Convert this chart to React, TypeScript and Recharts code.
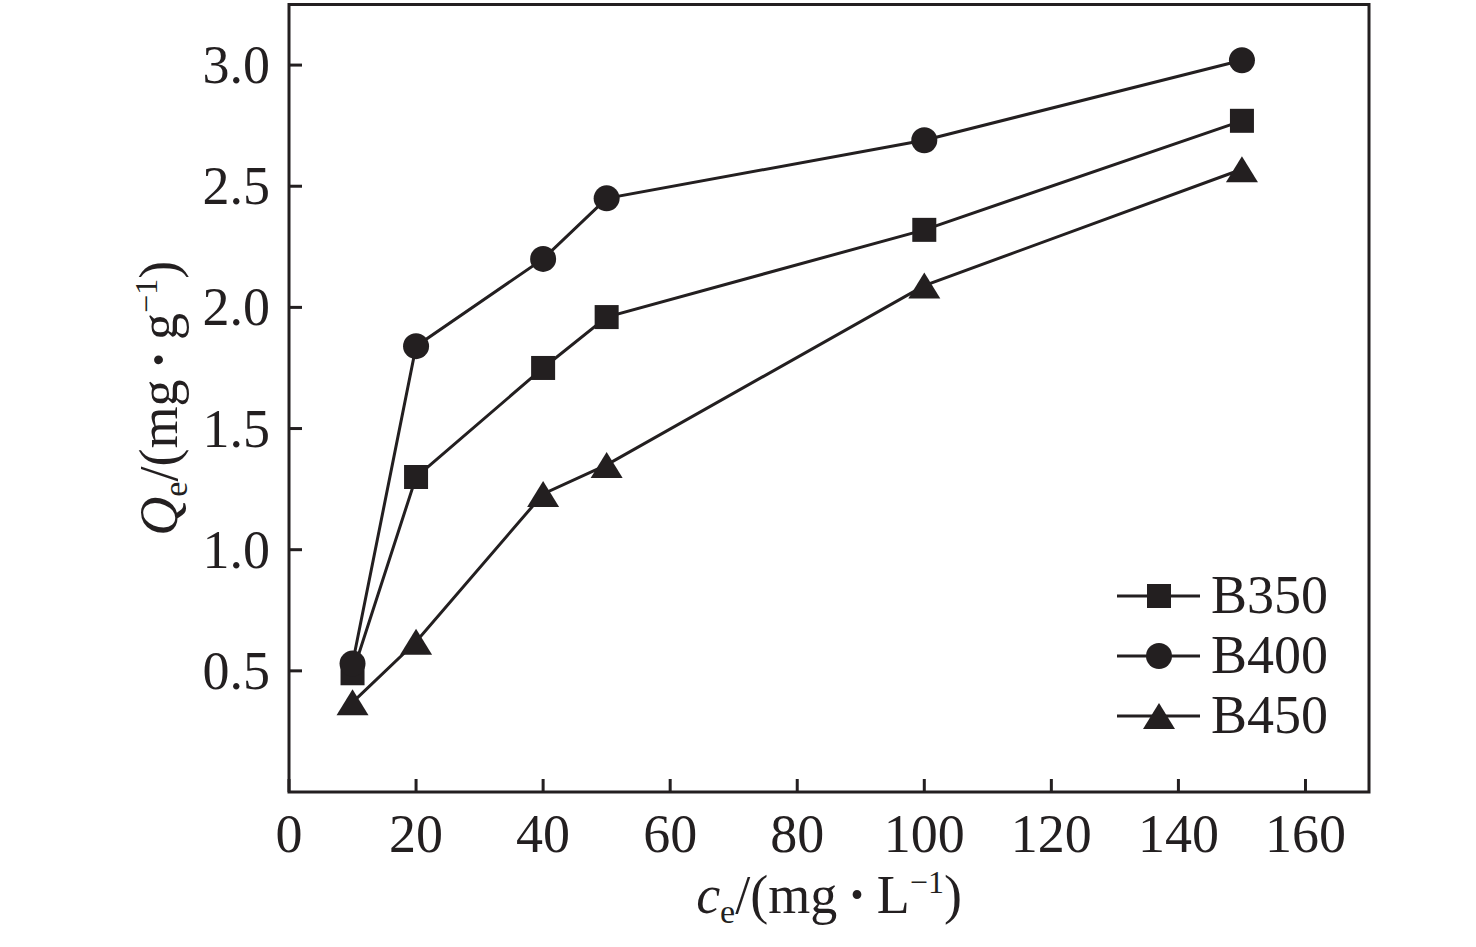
import React from 'react';
import { LineChart, Line, XAxis, YAxis, ReferenceArea, Legend } from 'recharts';

const INK = '#231f20';
const FONT = '"Liberation Serif", "Times New Roman", serif';
const FS = 54;

const ceValues = [10, 20, 40, 50, 100, 150];
const b350 = [0.49, 1.3, 1.75, 1.96, 2.32, 2.77];
const b400 = [0.53, 1.84, 2.2, 2.45, 2.69, 3.02];
const b450 = [0.37, 0.62, 1.23, 1.35, 2.09, 2.57];
const xTicks = [0, 20, 40, 60, 80, 100, 120, 140, 160];
const yTicks = [0.5, 1.0, 1.5, 2.0, 2.5, 3.0];
const seriesNames = ['B350', 'B400', 'B450'];
const seriesMarkers: Record<string, string> = { B350: 'square', B400: 'circle', B450: 'triangle' };

const data = ceValues.map((ce, i) => ({ ce, B350: b350[i], B400: b400[i], B450: b450[i] }));

function Marker({ kind, cx, cy }: { kind: string; cx: number; cy: number }) {
  if (cx == null || cy == null) return null;
  if (kind === 'square') return <rect x={cx - 12} y={cy - 12} width={24} height={24} fill={INK} />;
  if (kind === 'circle') return <circle cx={cx} cy={cy} r={13} fill={INK} />;
  return <polygon points={`${cx},${cy - 13} ${cx + 16},${cy + 13} ${cx - 16},${cy + 13}`} fill={INK} />;
}

const XTick = (props: any) => {
  const { x, y, payload } = props;
  return (
    <g>
      <line x1={x} y1={y} x2={x} y2={y - 13} stroke={INK} strokeWidth={3} />
      <text x={x} y={y + 60} textAnchor="middle" fontFamily={FONT} fontSize={FS} fill={INK}>
        {payload.value}
      </text>
    </g>
  );
};

const YTick = (props: any) => {
  const { x, y, payload } = props;
  return (
    <g>
      <line x1={x} y1={y} x2={x + 13} y2={y} stroke={INK} strokeWidth={3} />
      <text x={x - 19} y={y + 18} textAnchor="end" fontFamily={FONT} fontSize={FS} fill={INK}>
        {Number(payload.value).toFixed(1)}
      </text>
    </g>
  );
};

const YLabel = (props: any) => {
  const vb = props.viewBox || { x: 229, y: 4.5, width: 60, height: 787.5 };
  const cx = vb.x + vb.width - 112;
  const cy = vb.y + vb.height / 2;
  return (
    <text
      x={cx}
      y={cy}
      transform={`rotate(-90, ${cx}, ${cy})`}
      textAnchor="middle"
      fontFamily={FONT}
      fontSize={FS}
      fill={INK}
    >
      <tspan fontStyle="italic">Q</tspan>
      <tspan fontSize={34} dy={10}>e</tspan>
      <tspan dy={-10}>/(mg</tspan>
      <tspan fontWeight="bold">{'\u2009·\u2009'}</tspan>
      <tspan>g</tspan>
      <tspan fontSize={32} dy={-20}>−1</tspan>
      <tspan dy={20}>)</tspan>
    </text>
  );
};

const XLabel = (props: any) => {
  const vb = props.viewBox || { x: 289, y: 792, width: 1080, height: 30 };
  const cx = vb.x + vb.width / 2;
  const cy = vb.y + 121;
  return (
    <text x={cx} y={cy} textAnchor="middle" fontFamily={FONT} fontSize={FS} fill={INK}>
      <tspan fontStyle="italic">c</tspan>
      <tspan fontSize={34} dy={10}>e</tspan>
      <tspan dy={-10}>/(mg</tspan>
      <tspan fontWeight="bold">{'\u2009·\u2009'}</tspan>
      <tspan>L</tspan>
      <tspan fontSize={32} dy={-20}>−1</tspan>
      <tspan dy={20}>)</tspan>
    </text>
  );
};

const LegendContent = (props: any) => {
  const names: string[] =
    props.payload && props.payload.length ? props.payload.map((p: any) => p.value) : seriesNames;
  return (
    <svg width={260} height={180} style={{ display: 'block', overflow: 'visible' }}>
      {names.map((n, i) => {
        const cy = 36 + i * 60;
        return (
          <g key={n}>
            <line x1={7} x2={90} y1={cy} y2={cy} stroke={INK} strokeWidth={3} />
            <Marker kind={seriesMarkers[n]} cx={49} cy={cy} />
            <text x={101} y={cy + 17} fontFamily={FONT} fontSize={FS} fill={INK}>
              {n}
            </text>
          </g>
        );
      })}
    </svg>
  );
};

const makeDot = (kind: string) => (p: any) => (
  <Marker key={`${kind}-${p.index}`} kind={kind} cx={p.cx} cy={p.cy} />
);

export default function App() {
  return (
    <div style={{ position: 'absolute', left: 0, top: 0, width: 1476, height: 947, background: '#fff' }}>
      <LineChart
        width={1476}
        height={947}
        data={data}
        margin={{ top: 4.5, right: 107, bottom: 125, left: 229 }}
      >
        <XAxis
          dataKey="ce"
          type="number"
          domain={[0, 170]}
          ticks={xTicks}
          height={30}
          tickSize={0}
          tickMargin={0}
          axisLine={false}
          tickLine={false}
          tick={<XTick />}
          interval={0}
          label={<XLabel />}
        />
        <YAxis
          type="number"
          domain={[0, 3.25]}
          ticks={yTicks}
          width={60}
          tickSize={0}
          tickMargin={0}
          axisLine={false}
          tickLine={false}
          tick={<YTick />}
          interval={0}
          label={<YLabel />}
        />
        <ReferenceArea
          x1={0}
          x2={170}
          y1={0}
          y2={3.25}
          fill="none"
          fillOpacity={0}
          stroke={INK}
          strokeWidth={3}
          ifOverflow="visible"
        />
        {seriesNames.map((n) => (
          <Line
            key={n}
            dataKey={n}
            name={n}
            type="linear"
            stroke={INK}
            strokeWidth={3}
            dot={makeDot(seriesMarkers[n])}
            activeDot={false}
            isAnimationActive={false}
          />
        ))}
        <Legend
          layout="vertical"
          align="center"
          verticalAlign="middle"
          content={<LegendContent />}
          wrapperStyle={{ left: 1110, top: 560, width: 260, height: 180, margin: 0, padding: 0 }}
        />
      </LineChart>
    </div>
  );
}
